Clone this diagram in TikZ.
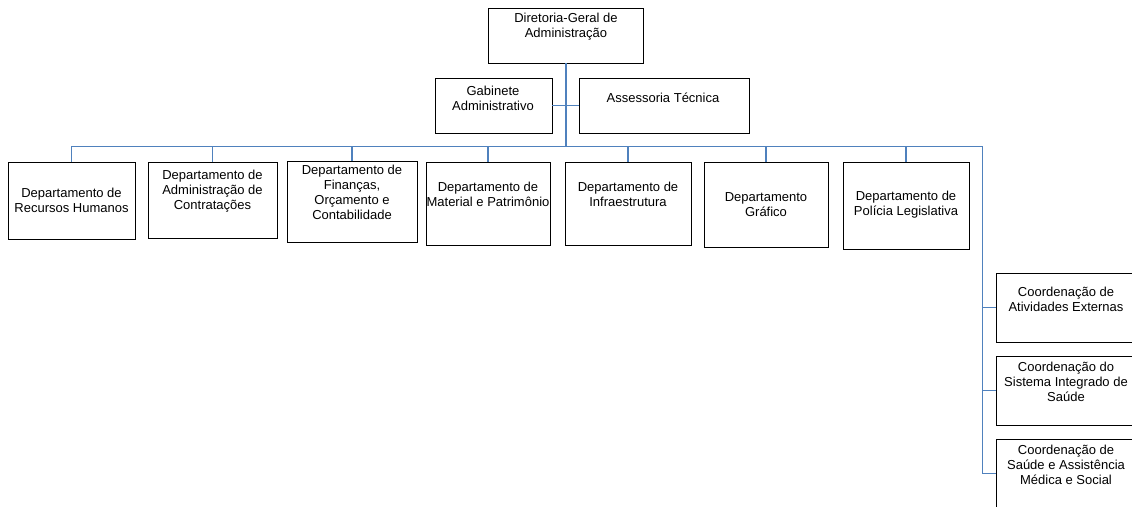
\documentclass[tikz,border=0pt]{standalone}
\usepackage{fontspec}
\setmainfont{Liberation Sans}
\definecolor{linkblue}{RGB}{79,129,189}
\tikzset{
  box/.style={draw=black, line width=1pt, fill=white, inner sep=0pt, outer sep=0pt},
  txt/.style={align=center, inner sep=0pt, font=\fontsize{13}{15}\selectfont},
  conn/.style={draw=linkblue, line width=1.3pt},
  trunk/.style={draw=linkblue, line width=2pt},
}
% \orgbox{name}{left}{top}{right}{bottom}{text x}{text y}{text}
\newcommand{\orgbox}[8]{%
  \node[box, minimum width={(#4)-(#2)}, minimum height={(#5)-(#3)}]
    (#1) at ({((#2)+(#4))/2},{((#3)+(#5))/2}) {};
  \node[txt] (#1t) at (#6,#7) {#8};
}
\begin{document}
\begin{tikzpicture}[x=1pt,y=-1pt]
\useasboundingbox (0,0) rectangle (1132,506);
\clip (0,0) rectangle (1132,506);

% top level
\orgbox{dg}{488}{8}{643}{63}{566}{27}{Diretoria-Geral de\\Administração}
\orgbox{gab}{435}{78}{552}{133}{493}{98}{Gabinete\\Administrativo}
\orgbox{ass}{579}{78}{749}{133}{663}{98}{Assessoria Técnica}

% departments
\orgbox{d1}{8}{162}{135}{239}{71.5}{200}{Departamento de\\Recursos Humanos}
\orgbox{d2}{148}{162}{277}{238}{212.5}{191}{Departamento de\\Administração de\\Contratações}
\orgbox{d3}{287}{161}{417}{242}{352}{192}{Departamento de\\Finanças,\\Orçamento e\\Contabilidade}
\orgbox{d4}{426}{162}{550}{245}{488}{194}{Departamento de\\Material e Patrimônio}
\orgbox{d5}{565}{162}{691}{245}{628}{194}{Departamento de\\Infraestrutura}
\orgbox{d6}{704}{162}{828}{247}{766}{205}{Departamento\\Gráfico}
\orgbox{d7}{843}{162}{969}{249}{906}{205}{Departamento de\\Polícia Legislativa}

% coordinations
\orgbox{c1}{996}{273}{1136}{342}{1066}{299}{Coordenação de\\Atividades Externas}
\orgbox{c2}{996}{356}{1136}{425}{1066}{382}{Coordenação do\\Sistema Integrado de\\Saúde}
\orgbox{c3}{996}{439}{1136}{508}{1066}{465}{Coordenação de\\Saúde e Assistência\\Médica e Social}

% connectors
\coordinate (rc) at (982.5,146.5);
\draw[conn] (gab.east) -- (ass.west);
\draw[conn] (d1.north) |- (rc) |- (c3.west);
\foreach \d in {d2,d3,d4,d5,d6,d7}
  \draw[conn] (\d.north) -- (\d.north |- rc);
\foreach \c in {c1,c2}
  \draw[conn] (rc |- \c.west) -- (\c.west);
\draw[trunk] (dg.south) -- (dg.south |- rc);
\end{tikzpicture}
\end{document}
